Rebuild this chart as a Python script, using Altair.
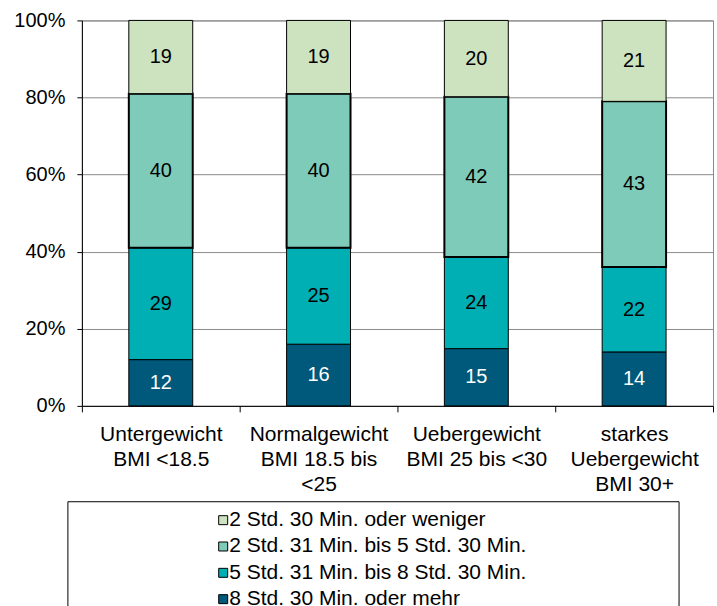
import altair as alt
import pandas as pd

categories = [
    "Untergewicht|BMI <18.5",
    "Normalgewicht|BMI 18.5 bis|<25",
    "Uebergewicht|BMI 25 bis <30",
    "starkes|Uebergewicht|BMI 30+",
]
# series listed bottom to top of the stack
series = [
    "8 Std. 30 Min. oder mehr",
    "5 Std. 31 Min. bis 8 Std. 30 Min.",
    "2 Std. 31 Min. bis 5 Std. 30 Min.",
    "2 Std. 30 Min. oder weniger",
]
v_mehr = [12, 16, 15, 14]
v_5_8 = [29, 25, 24, 22]
v_2_5 = [40, 40, 42, 43]
v_weniger = [19, 19, 20, 21]
colors = ["#00587A", "#00AFB4", "#7FCBBA", "#CDE2BE"]

values = [v_mehr, v_5_8, v_2_5, v_weniger]
rows = []
for si, s in enumerate(series):
    for ci, c in enumerate(categories):
        rows.append({"cat": c, "series": s, "order": si, "value": values[si][ci]})
df = pd.DataFrame(rows)

FONT = "Liberation Sans"

color_scale = alt.Scale(domain=series, range=colors)

base = alt.Chart(df).transform_joinaggregate(
    total="sum(value)", groupby=["cat"]
).transform_window(
    cum="sum(value)", sort=[alt.SortField("order")], groupby=["cat"], frame=[None, 0]
).transform_calculate(
    y1="(datum.cum - datum.value) / datum.total",
    y2="datum.cum / datum.total",
    ym="(datum.cum - datum.value / 2) / datum.total",
)

xenc = alt.X(
    "cat:N",
    sort=categories,
    title=None,
    scale=alt.Scale(paddingInner=0, paddingOuter=0),
    axis=alt.Axis(
        labelAngle=0,
        labelExpr="split(datum.label, '|')",
        labelFont=FONT,
        labelFontSize=21,
        labelColor="black",
        labelLineHeight=25,
        labelPadding=12,
        labelBaseline="top",
        tickBand="extent",
        tickSize=6,
        tickColor="black",
        domainColor="black",
        grid=False,
    ),
)

bars = base.mark_bar(size=64, stroke="black").encode(
    x=xenc,
    y=alt.Y(
        "y1:Q",
        title=None,
        scale=alt.Scale(domain=[0, 1], nice=False),
        axis=alt.Axis(
            format="%",
            values=[0, 0.2, 0.4, 0.6, 0.8, 1.0],
            labelFont=FONT,
            labelFontSize=20,
            labelColor="black",
            labelPadding=12,
            tickSize=5,
            tickColor="black",
            domainColor="black",
            gridColor="#8a8a8a",
        ),
    ),
    y2="y2:Q",
    fill=alt.Color("series:N", scale=color_scale, legend=None),
    strokeWidth=alt.condition(
        alt.datum.order == 2, alt.value(2), alt.value(1)
    ),
)

labels = base.mark_text(font=FONT, fontSize=20, baseline="middle").encode(
    x=alt.X("cat:N", sort=categories),
    y=alt.Y("ym:Q"),
    text=alt.Text("value:Q"),
    color=alt.condition(alt.datum.order == 0, alt.value("white"), alt.value("black")),
)

main = alt.layer(bars, labels).properties(
    width=632, height=386, view=alt.ViewBackground(stroke="#8a8a8a")
)

# legend panel (drawn by hand below the plot)
legend_order = list(reversed(series))
ldf = pd.DataFrame({"series": legend_order})
lbase = alt.Chart(ldf)
ly = alt.Y(
    "series:N",
    sort=legend_order,
    title=None,
    axis=None,
    scale=alt.Scale(type="point", padding=0.7),
)
frame = alt.Chart(pd.DataFrame({"f": [0]})).mark_rect(
    fill="white", stroke="black", strokeWidth=1
).encode(
    x=alt.value(-14), x2=alt.value(598), y=alt.value(0), y2=alt.value(130)
)
lsym = lbase.mark_square(size=81, stroke="black", strokeWidth=1, opacity=1).encode(
    x=alt.value(141.5),
    y=ly,
    fill=alt.Color("series:N", scale=color_scale, legend=None),
)
ltxt = lbase.mark_text(font=FONT, fontSize=21, align="left", baseline="middle").encode(
    x=alt.value(147.5),
    y=ly,
    text="series:N",
)
legend = alt.layer(frame, lsym, ltxt).properties(
    width=598, height=116, view=alt.ViewBackground(stroke=None)
)

chart = alt.vconcat(main, legend, spacing=5).properties(
    padding={"left": 13, "top": 9, "right": 3, "bottom": 0}
)

chart.save("out.html", embed_options={"renderer": "svg", "actions": False})
